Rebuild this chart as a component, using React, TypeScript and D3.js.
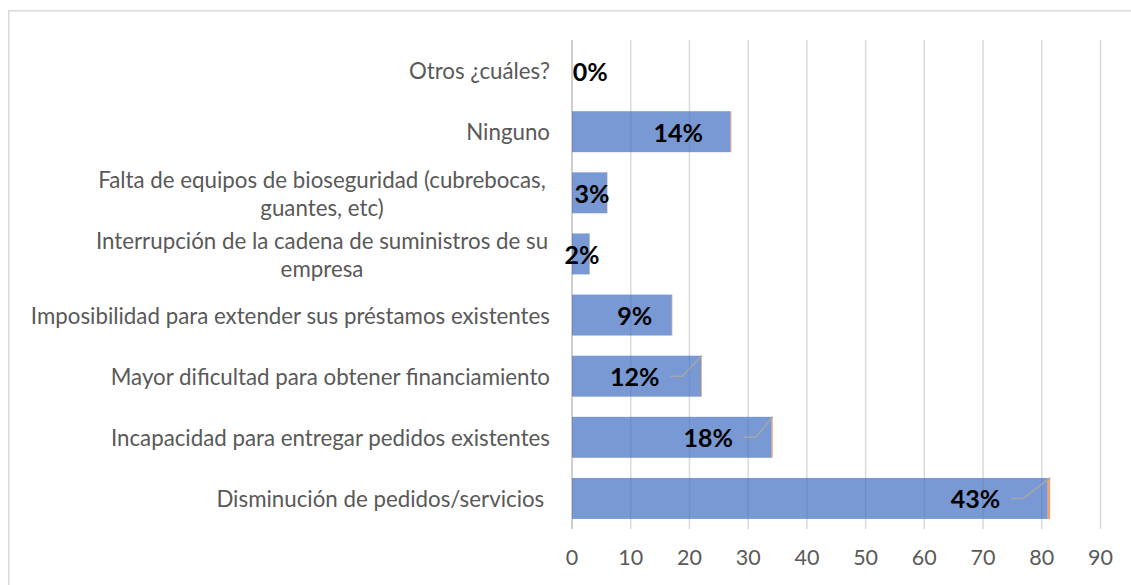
import React from "react";
import * as d3 from "d3";

const categories: string[][] = [
  ["Otros ¿cuáles?"],
  ["Ninguno"],
  ["Falta de equipos de bioseguridad (cubrebocas,", "guantes, etc)"],
  ["Interrupción de la cadena de suministros de su", "empresa"],
  ["Imposibilidad para extender sus préstamos existentes"],
  ["Mayor dificultad para obtener financiamiento"],
  ["Incapacidad para entregar pedidos existentes"],
  ["Disminución de pedidos/servicios "],
];
const counts: number[] = [0, 27, 6, 3, 17, 22, 34, 81];
const percents: number[] = [0.0, 0.14, 0.03, 0.02, 0.09, 0.12, 0.18, 0.43];
const pctLabels: string[] = ["0%", "14%", "3%", "2%", "9%", "12%", "18%", "43%"];
// label anchor (centre) in axis units, as placed in the original chart
const labelAt: number[] = [3.1, 18.1, 3.4, 1.7, 10.7, 10.7, 23.2, 68.7];
const ticks: number[] = [0, 10, 20, 30, 40, 50, 60, 70, 80, 90];

const W = 1131;
const H = 585;
const FONT = "Lato, 'Open Sans', sans-serif";

export default function App() {
  const x = d3.scaleLinear().domain([0, 90]).range([572, 1100.5]);
  const y = d3
    .scaleBand<number>()
    .domain(d3.range(categories.length))
    .range([40, 529])
    .paddingInner(0.33)
    .paddingOuter(0.165);
  const bw = y.bandwidth();
  const grey = "#595959";

  return (
    <svg
      width={W}
      height={H}
      style={{ position: "absolute", left: 0, top: 0, background: "#fff" }}
      fontFamily={FONT}
    >
      <rect x={0} y={0} width={W} height={H} fill="#fff" />
      <rect x={8.75} y={10.75} width={W + 20} height={H + 20} fill="none" stroke="#d9d9d9" strokeWidth={1.5} />

      {/* gridlines */}
      {ticks.map((t) => (
        <line
          key={"g" + t}
          x1={x(t)}
          x2={x(t)}
          y1={40}
          y2={529}
          stroke={t === 0 ? "#bfbfbf" : "#d9d9d9"}
          strokeWidth={1.5}
        />
      ))}

      {/* bars */}
      {counts.map((c, i) => (
        <g key={"b" + i}>
          <rect x={x(0)} y={y(i)!} width={x(c) - x(0)} height={bw} fill="#4472C4" fillOpacity={0.72} />
          <rect
            x={x(c)}
            y={y(i)!}
            width={x(c + percents[i]) - x(c)}
            height={bw}
            fill="#ED7D31"
            fillOpacity={0.72}
          />
        </g>
      ))}

      {/* tick labels */}
      {ticks.map((t) => (
        <text key={"t" + t} x={x(t)} y={557} textAnchor="middle" dominantBaseline="central" fontSize={21.5} fill={grey}>
          {t}
        </text>
      ))}

      {/* category labels */}
      {categories.map((lines, i) => {
        const cy = y(i)! + bw / 2;
        const lh = 28;
        if (lines.length === 1) {
          return (
            <text
              key={"c" + i}
              x={550}
              y={cy}
              textAnchor="end"
              dominantBaseline="central"
              fontSize={22.3}
              fill={grey}
              style={{ whiteSpace: "pre" }}
            >
              {lines[0]}
            </text>
          );
        }
        return (
          <text key={"c" + i} x={322} y={cy} textAnchor="middle" dominantBaseline="central" fontSize={22.3} fill={grey}>
            {lines.map((l, k) => (
              <tspan key={k} x={322} y={cy + (k - (lines.length - 1) / 2) * lh}>
                {l}
              </tspan>
            ))}
          </text>
        );
      })}

      {/* data labels with leader lines */}
      {pctLabels.map((lab, i) => {
        const cx = x(labelAt[i]);
        const cy = y(i)! + bw / 2;
        const end = x(counts[i] + percents[i]);
        const textHalf = lab.length * 8.5;
        const start = cx + textHalf + 10;
        const showLeader = end - start > 20;
        return (
          <g key={"l" + i}>
            {showLeader && (
              <polyline
                points={`${start},${cy} ${start + 12},${cy} ${end},${y(i)!}`}
                fill="none"
                stroke="#a6a6a6"
                strokeWidth={1.5}
              />
            )}
            <text
              x={cx}
              y={cy}
              textAnchor="middle"
              dominantBaseline="central"
              fontSize={25}
              fontWeight="bold"
              fill="#000"
            >
              {lab}
            </text>
          </g>
        );
      })}
    </svg>
  );
}
